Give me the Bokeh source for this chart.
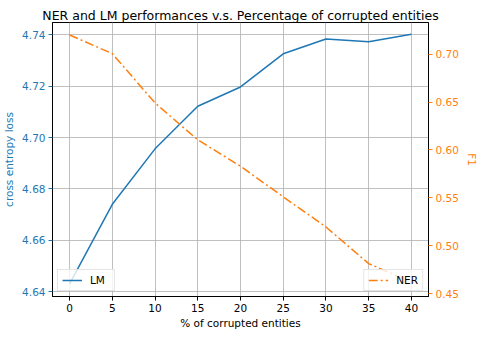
from bokeh.plotting import figure
from bokeh.models import Range1d, LinearAxis, Legend, LegendItem, FixedTicker, NumeralTickFormatter
from bokeh.embed import file_html
from bokeh.resources import INLINE

# data
pct = [0, 5, 10, 15, 20, 25, 30, 35, 40]
lm_loss = [4.643, 4.674, 4.6956, 4.7122, 4.7197, 4.7326, 4.7384, 4.7373, 4.7402]
ner_f1 = [0.720, 0.7005, 0.649, 0.6105, 0.583, 0.551, 0.5196, 0.4813, 0.462]
x_ticks = [0, 5, 10, 15, 20, 25, 30, 35, 40]
left_ticks = [4.64, 4.66, 4.68, 4.70, 4.72, 4.74]
right_ticks = [0.45, 0.50, 0.55, 0.60, 0.65, 0.70]

BLUE = "#1f77b4"
ORANGE = "#ff7f0e"
FONT = "DejaVu Sans"

p = figure(frame_width=376, frame_height=274, output_backend="svg", toolbar_location=None,
           x_range=Range1d(-2, 42), y_range=Range1d(4.6381, 4.7448),
           title="NER and LM performances v.s. Percentage of corrupted entities",
           min_border_left=46, min_border_top=22, min_border_right=0, min_border_bottom=0)
p.extra_y_ranges = {"f1": Range1d(0.447, 0.733)}

p.title.align = "center"
p.title.text_font = FONT
p.title.text_font_size = "12.5px"
p.title.text_font_style = "normal"
p.title.text_color = "black"
p.title.standoff = 0

p.outline_line_color = "black"
p.outline_line_width = 1
p.outline_line_alpha = 1
p.background_fill_color = "white"
p.border_fill_color = "white"

# grids
p.xgrid.ticker = FixedTicker(ticks=x_ticks)
p.ygrid.ticker = FixedTicker(ticks=left_ticks)
for g in (p.xgrid, p.ygrid):
    g.grid_line_color = "#b0b0b0"
    g.grid_line_width = 0.8

# bottom axis
xa = p.xaxis[0]
xa.ticker = FixedTicker(ticks=x_ticks)
xa.axis_label = "% of corrupted entities"

# left axis
ya = p.yaxis[0]
ya.ticker = FixedTicker(ticks=left_ticks)
ya.formatter = NumeralTickFormatter(format="0.00")
ya.axis_label = "cross entropy loss"
ya.axis_label_text_color = BLUE
ya.major_label_text_color = BLUE
ya.major_tick_line_color = BLUE

# right axis
ra = LinearAxis(y_range_name="f1", ticker=FixedTicker(ticks=right_ticks), axis_label="F1",
                formatter=NumeralTickFormatter(format="0.00"))
ra.axis_label_text_color = ORANGE
ra.major_label_text_color = ORANGE
ra.major_tick_line_color = ORANGE
p.add_layout(ra, "right")

for ax in (xa, ya, ra):
    ax.minor_tick_line_color = None
    ax.major_tick_out = 4
    ax.major_tick_in = 0
    ax.axis_line_color = "black"
    ax.major_label_text_font = FONT
    ax.major_label_text_font_size = "10.5px"
    ax.axis_label_text_font = FONT
    ax.axis_label_text_font_size = "10.5px"
    ax.axis_label_text_font_style = "normal"
    ax.major_label_standoff = 3
    ax.axis_label_standoff = 4
xa.major_label_text_color = "black"
xa.axis_label_text_color = "black"
xa.axis_label_standoff = 2

r_lm = p.line(pct, lm_loss, line_color=BLUE, line_width=1.5)
r_ner = p.line(pct, ner_f1, line_color=ORANGE, line_width=1.5, line_dash="9 3 2 3",
               y_range_name="f1")

def make_legend(label, r, loc):
    lg = Legend(items=[LegendItem(label=label, renderers=[r])], location=loc)
    lg.label_text_font = FONT
    lg.label_text_font_size = "10.5px"
    lg.label_text_color = "black"
    lg.glyph_width = 20
    lg.glyph_height = 10
    lg.label_standoff = 8
    lg.padding = 4
    lg.margin = 5
    lg.spacing = 0
    lg.border_line_color = "#cccccc"
    lg.border_line_width = 1
    lg.background_fill_color = "white"
    lg.background_fill_alpha = 0.8
    lg.label_height = 10
    return lg

p.add_layout(make_legend("LM", r_lm, "bottom_left"))
p.add_layout(make_legend("NER", r_ner, "bottom_right"))

open("out.html", "w").write(file_html(p, INLINE))
